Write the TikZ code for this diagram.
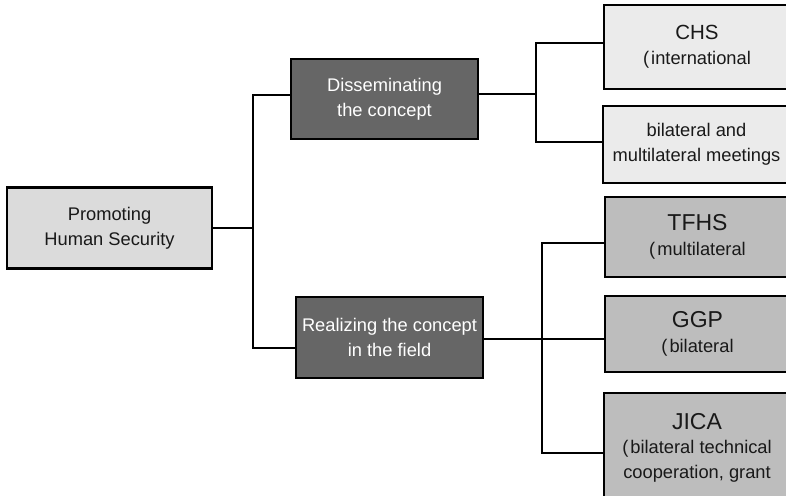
\documentclass[tikz,border=0pt]{standalone}
\usepackage{fontspec}
\setmainfont{Liberation Sans}
\newcommand{\fwp}{(\kern2pt}
\begin{document}
\begin{tikzpicture}[x=1pt,y=-1pt,
  box/.style={draw=black,line width=2.4pt,align=center,inner sep=0pt,text=black!90,font=\fontsize{18.3}{25}\selectfont},
  light/.style={box,fill=black!14},
  dark/.style={box,fill=black!60,text=white},
  pale/.style={box,fill=black!8},
  mid/.style={box,fill=black!26},
  conn/.style={line width=2.6pt,line cap=rect}]
\useasboundingbox (0,0) rectangle (786,495);
\begin{scope}
\clip (0,0) rectangle (786,495);
\node[light,minimum width=205,minimum height=81] (root) at (109.5,228) {Promoting\\Human Security};
\node[dark,minimum width=187,minimum height=80] (dis) at (384.5,99) {Disseminating\\the concept};
\node[dark,minimum width=187,minimum height=81] (real) at (389.5,337.5) {Realizing the concept\\in the field};
\node[pale,minimum width=186,minimum height=84] (chs) at (697,47) {{\fontsize{20.5}{25}\selectfont CHS}\\\fwp international};
\node[pale,minimum width=187,minimum height=77] (bil) at (696.5,144.5) {bilateral and\\multilateral meetings};
\node[mid,minimum width=185,minimum height=80] (tfhs) at (697.5,237) {{\fontsize{23}{25}\selectfont TFHS}\\\fwp multilateral};
\node[mid,minimum width=185,minimum height=76] (ggp) at (697.5,334) {{\fontsize{23}{25}\selectfont GGP}\\\fwp bilateral};
\node[mid,minimum width=186,minimum height=110] (jica) at (697,448) {{\fontsize{23}{25}\selectfont JICA}\\[-1pt]\fwp bilateral technical\\cooperation, grant};
\end{scope}
\coordinate (j1) at (253,228);
\coordinate (j2) at (536,94);
\coordinate (j3) at (542,339);
\draw[conn] (root.east) -- (j1);
\draw[conn] ([yshift=4pt]dis.west) -| (j1) |- ([yshift=-10.5pt]real.west);
\draw[conn] ([yshift=5pt]dis.east) -- (j2);
\draw[conn] ([yshift=4pt]chs.west) -| (j2) |- ([yshift=2.5pt]bil.west);
\draw[conn] ([yshift=-1.5pt]real.east) -- (j3);
\draw[conn] ([yshift=-6pt]tfhs.west) -| (j3) |- ([yshift=-5pt]jica.west);
\draw[conn] (j3) -- ([yshift=-5pt]ggp.west);
\end{tikzpicture}
\end{document}
